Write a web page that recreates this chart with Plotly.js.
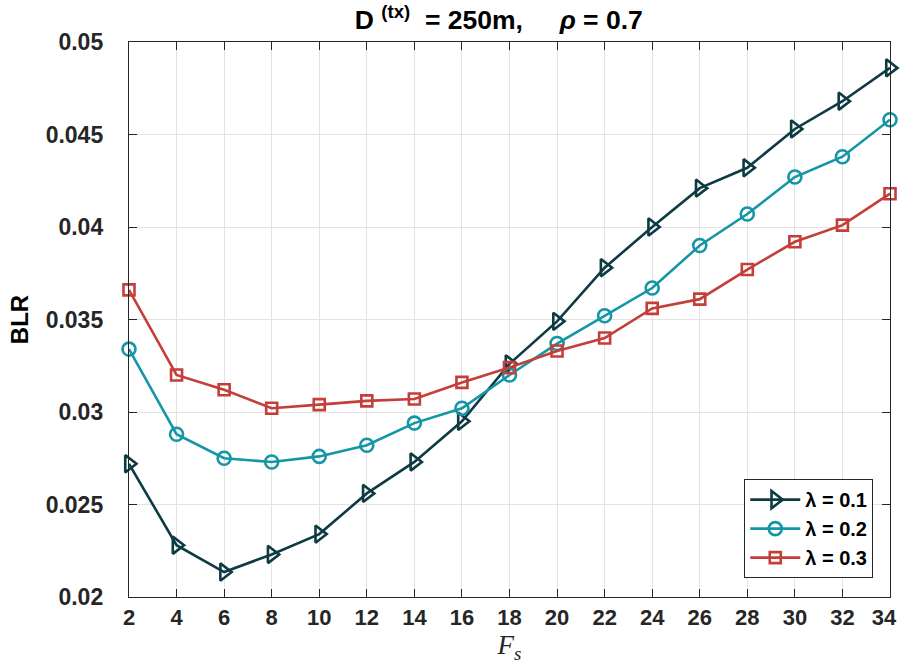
<!DOCTYPE html>
<html>
<head>
<meta charset="utf-8">
<script src="https://cdn.plot.ly/plotly-3.0.1.min.js"></script>
<style>
  html, body { margin: 0; padding: 0; background: #ffffff; }
  #chart { width: 902px; height: 669px; }
</style>
</head>
<body>
<div id="chart"></div>
<script>
// Number of slots F_s on the horizontal axis
const fs = [2, 4, 6, 8, 10, 12, 14, 16, 18, 20, 22, 24, 26, 28, 30, 32, 34];

// Blocking rate for each arrival rate lambda
const blrLambda01 = [0.0272, 0.0228, 0.02135, 0.0223, 0.0234, 0.0256, 0.0273, 0.0295, 0.0326,
                     0.0349, 0.0378, 0.0400, 0.0421, 0.0432, 0.0453, 0.0468, 0.0486];
const blrLambda02 = [0.0334, 0.0288, 0.0275, 0.0273, 0.0276, 0.0282, 0.0294, 0.0302, 0.0320,
                     0.0337, 0.0352, 0.0367, 0.0390, 0.0407, 0.0427, 0.0438, 0.0458];
const blrLambda03 = [0.0366, 0.0320, 0.0312, 0.0302, 0.0304, 0.0306, 0.0307, 0.0316, 0.0324,
                     0.0333, 0.0340, 0.0356, 0.0361, 0.0377, 0.0392, 0.0401, 0.0418];

const seriesNames = ['<b>\u03bb = 0.1</b>', '<b>\u03bb = 0.2</b>', '<b>\u03bb = 0.3</b>'];
const xTicks = fs;

const FONT = '"Liberation Sans", Arial, Helvetica, sans-serif';
const AXIS_COLOR = '#262626';
const GRID_COLOR = '#e3e3e3';

function series(y, name, color, symbol, size) {
  return {
    x: fs, y: y, name: name, type: 'scatter', mode: 'lines+markers',
    line: { color: color, width: 2.6 },
    marker: { symbol: symbol, size: size, color: color, line: { color: color, width: 2.6 } },
    cliponaxis: false
  };
}

const data = [
  series(blrLambda01, seriesNames[0], '#0d3b43', 'triangle-right-open', 15),
  series(blrLambda02, seriesNames[1], '#1596a6', 'circle-open', 13),
  series(blrLambda03, seriesNames[2], '#c43e3a', 'square-open', 11)
];

// the last label is kept inside the frame, as the axis ends at the page edge
const xTickText = xTicks.map((v, i) =>
  '<b>' + v + '</b>' + (i === xTicks.length - 1 ? '\u00a0\u00a0' : ''));

const layout = {
  width: 902, height: 669,
  margin: { l: 129, r: 12, t: 42, b: 72 },
  paper_bgcolor: '#ffffff', plot_bgcolor: '#ffffff',
  font: { family: FONT, color: AXIS_COLOR, size: 20 },
  title: {
    text: '<b>D <sup>(tx)</sup>  = 250m,     <i>\u03c1</i> = 0.7</b>',
    font: { family: FONT, size: 26.5, color: '#000000' },
    x: 0.553, xanchor: 'center', y: 0.984, yanchor: 'top'
  },
  xaxis: {
    range: [2, 34], tickvals: xTicks, ticktext: xTickText,
    ticks: 'inside', ticklen: 8, tickcolor: AXIS_COLOR, tickwidth: 1,
    showline: true, linecolor: AXIS_COLOR, linewidth: 1.2, mirror: 'ticks',
    showgrid: true, gridcolor: GRID_COLOR, gridwidth: 1, zeroline: false,
    tickfont: { family: FONT, size: 22, color: '#262626' },
    ticklabeloverflow: 'allow',
    title: {
      text: '<i>F</i><sub><i>s</i></sub>',
      font: { family: '"Liberation Serif", "DejaVu Serif", serif', size: 27, color: '#262626' },
      standoff: 6
    }
  },
  yaxis: {
    range: [0.02, 0.05], dtick: 0.005, tick0: 0.02,
    ticks: 'inside', ticklen: 8, tickcolor: AXIS_COLOR, tickwidth: 1,
    showline: true, linecolor: AXIS_COLOR, linewidth: 1.2, mirror: 'ticks',
    showgrid: true, gridcolor: GRID_COLOR, gridwidth: 1, zeroline: false,
    tickfont: { family: FONT, size: 23, color: '#262626' },
    tickprefix: '<b>', ticksuffix: '</b>',
    ticklabelstandoff: 20,
    title: {
      text: '<b>BLR</b>',
      font: { family: FONT, size: 24, color: '#000000' },
      standoff: 10
    }
  },
  legend: {
    x: 0.978, xanchor: 'right', y: 0.034, yanchor: 'bottom',
    bgcolor: '#ffffff', bordercolor: '#262626', borderwidth: 1,
    font: { family: FONT, size: 20, color: '#000000' },
    itemwidth: 50, tracegroupgap: 0
  },
  showlegend: true
};

Plotly.newPlot('chart', data, layout, { displayModeBar: false, staticPlot: true });
</script>
</body>
</html>
